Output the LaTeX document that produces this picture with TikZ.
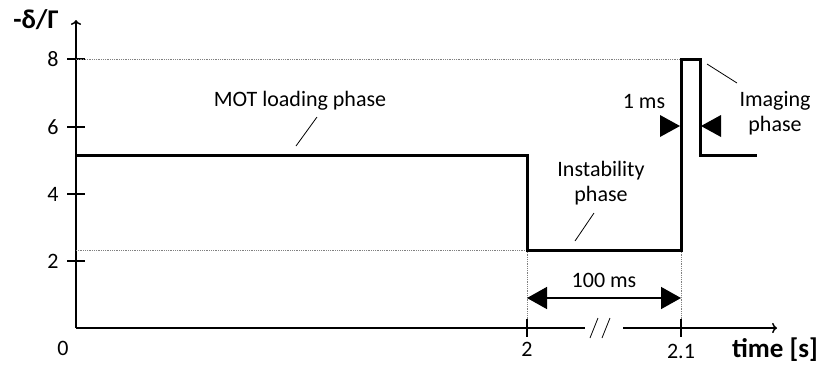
\documentclass[tikz,border=0pt]{standalone}
\usepackage{fontspec}
\setmainfont{Carlito}
\usetikzlibrary{arrows.meta}

\begin{document}
\begin{tikzpicture}[x=1pt, y=-1pt]
 \tikzset{
axis/.style = {line width=1.5pt},
signal/.style = {line width=3pt, line join=miter},
guide/.style = {densely dotted, gray, line width=0.8pt},
leader/.style = {line width=0.8pt},
lbl/.style = {font=\fontsize{22}{25}\selectfont, align=center},
bold/.style = {font=\fontsize{27}{30}\selectfont\bfseries},
dim/.style = {line width=1.5pt, {Triangle[length=20pt,width=22pt]}-{Triangle[length=20pt,width=22pt]}}}

\useasboundingbox (0,0) rectangle (822,368);

      % axes
      \coordinate (O) at (76,328);
      \coordinate (Ytop) at (76,20);
      \coordinate (Gap1) at (585,328);
      \coordinate (Gap2) at (623,328);
      \coordinate (Xend) at (777,328);

      \draw [axis,->] (O) -- (Ytop);
      \draw [axis] (O) -- (Gap1);
      \draw [axis,->] (Gap2) -- (Xend);
      \draw [line width=0.8pt] (590,338) -- (598,318) (602,338) -- (610,318);

      % y ticks
      \foreach \v/\yy in {8/59, 6/127, 4/194, 2/261} {
        \draw [axis] (67,\yy) -- (85,\yy);
        \node [lbl, anchor=east] (tick\v) at (62,\yy) {\v};
      }
      \node [lbl] (tick0) at (63,348) {0};

      % signal levels
      \coordinate (A) at (76,155);
      \coordinate (B) at (527,155);
      \coordinate (C) at (527,250);
      \coordinate (D) at (681,250);
      \coordinate (E) at (681,59);
      \coordinate (F) at (700,59);
      \coordinate (G) at (700,155);
      \coordinate (H) at (757,155);

      \draw [guide] (76,59) -- (E);
      \draw [guide] (76,250) -- (C);
      \draw [guide] (C) -- (527,328);
      \draw [guide] (D) -- (681,328);

      \draw [signal] (A) -- (B) -- (C) -- (D) -- (E) -- (F) -- (G) -- (H);

      % x ticks
      \draw [axis] (527,319) -- (527,337);
      \draw [axis] (681,319) -- (681,337);
      \node [lbl] (t2) at (527,349) {2};
      \node [lbl] (t21) at (681,351) {2.1};
      \node [bold] (xlab) at (775,350) {time [s]};
      \node [bold] (ylab) at (36,20) {-δ/Γ};

      % durations
      \draw [dim] (527,298) -- (681,298);
      \node [lbl] (long) at (604,280) {100 ms};
      \fill (660,115) -- (680,126) -- (660,137) -- cycle;
      \fill (721,115) -- (701,126) -- (721,137) -- cycle;
      \node [lbl] (short) at (644,101) {1 ms};

      % phase labels
      \node [lbl] (mot) at (300,101) {MOT loading phase};
      \draw [leader] (296,146) -- (317,117);
      \node [lbl] (inst) at (601,183) {Instability\\phase};
      \draw [leader] (575,241) -- (594,213);
      \node [lbl] (img) at (775,113) {Imaging\\phase};
      \draw [leader] (707,64) -- (737,83);

  \end{tikzpicture}
\end{document}
